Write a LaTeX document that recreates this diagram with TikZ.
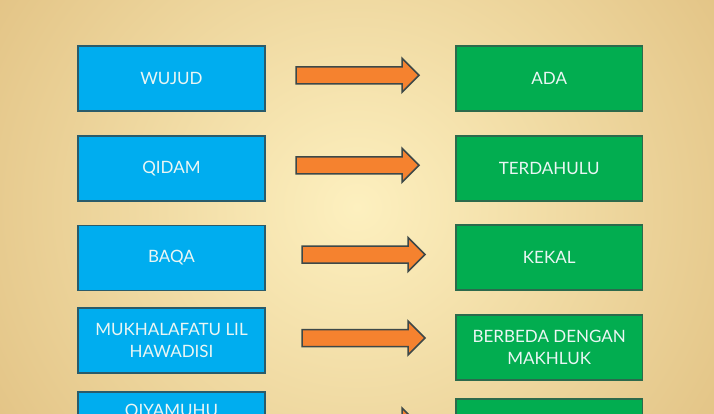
\documentclass[tikz,border=0pt]{standalone}
\usepackage{fontspec}
\setmainfont{Lato}
\definecolor{bglight}{HTML}{FDF0BF}
\definecolor{bgdark}{HTML}{E3C486}
\definecolor{skyblue}{HTML}{00ADEF}
\definecolor{blueedge}{HTML}{2A5B6A}
\definecolor{leafgreen}{HTML}{02AD50}
\definecolor{greenedge}{HTML}{2C6A4C}
\definecolor{arroworange}{HTML}{F5822F}
\definecolor{arrowedge}{HTML}{3D4848}
\definecolor{txt}{HTML}{EAF6F4}
\begin{document}
\begin{tikzpicture}[x=1pt,y=-1pt,
  lbox/.style={draw=blueedge, line width=1.6pt, fill=skyblue, minimum width=187pt,
    minimum height=65pt, text=txt, align=center, inner sep=0pt,
    font=\fontsize{17}{21.6}\selectfont},
  rbox/.style={lbox, draw=greenedge, fill=leafgreen, minimum width=186.5pt},
  blockarrow/.style={fill=arroworange, draw=arrowedge, line width=1.5pt, line join=miter},
  blockarr/.pic={\path[blockarrow] (0,-8.5) -- (106,-8.5) -- (106,-17) -- (123,0)
      -- (106,17) -- (106,8.5) -- (0,8.5) -- cycle;}
]
\useasboundingbox (0,0) rectangle (714,414);
\clip (0,0) rectangle (714,414);
\shade[inner color=bglight, outer color=bgdark] (-70,-200) rectangle (784,614);

% left column
\node[lbox] (wujud) at (171.5,78.5) {WUJUD};
\node[lbox] (qidam) at (171.5,168.5) {QIDAM};
\node[lbox] (baqa) at (171.5,258) {BAQA};
\node[lbox] (mukh) at (171.5,340.7) {MUKHALAFATU LIL\\HAWADISI};
\node[lbox] (qiya) at (171.5,424.7) {QIYAMUHU\\\strut};

% right column
\node[rbox] (ada) at (549.2,78.5) {ADA};
\node[rbox] (terd) at (549.2,168.5) {TERDAHULU};
\node[rbox] (kekal) at (549.2,257.7) {KEKAL};
\node[rbox] (beda) at (549.2,347.5) {BERBEDA DENGAN\\MAKHLUK};
\node[rbox] (last) at (549.2,431.7) {};

% arrows
\pic (arr1) at (296,75.3) {blockarr};
\pic (arr2) at (296,165.3) {blockarr};
\pic (arr3) at (302,254.5) {blockarr};
\pic (arr4) at (302,338) {blockarr};
\pic (arr5) at (296,425) {blockarr};
\end{tikzpicture}
\end{document}
